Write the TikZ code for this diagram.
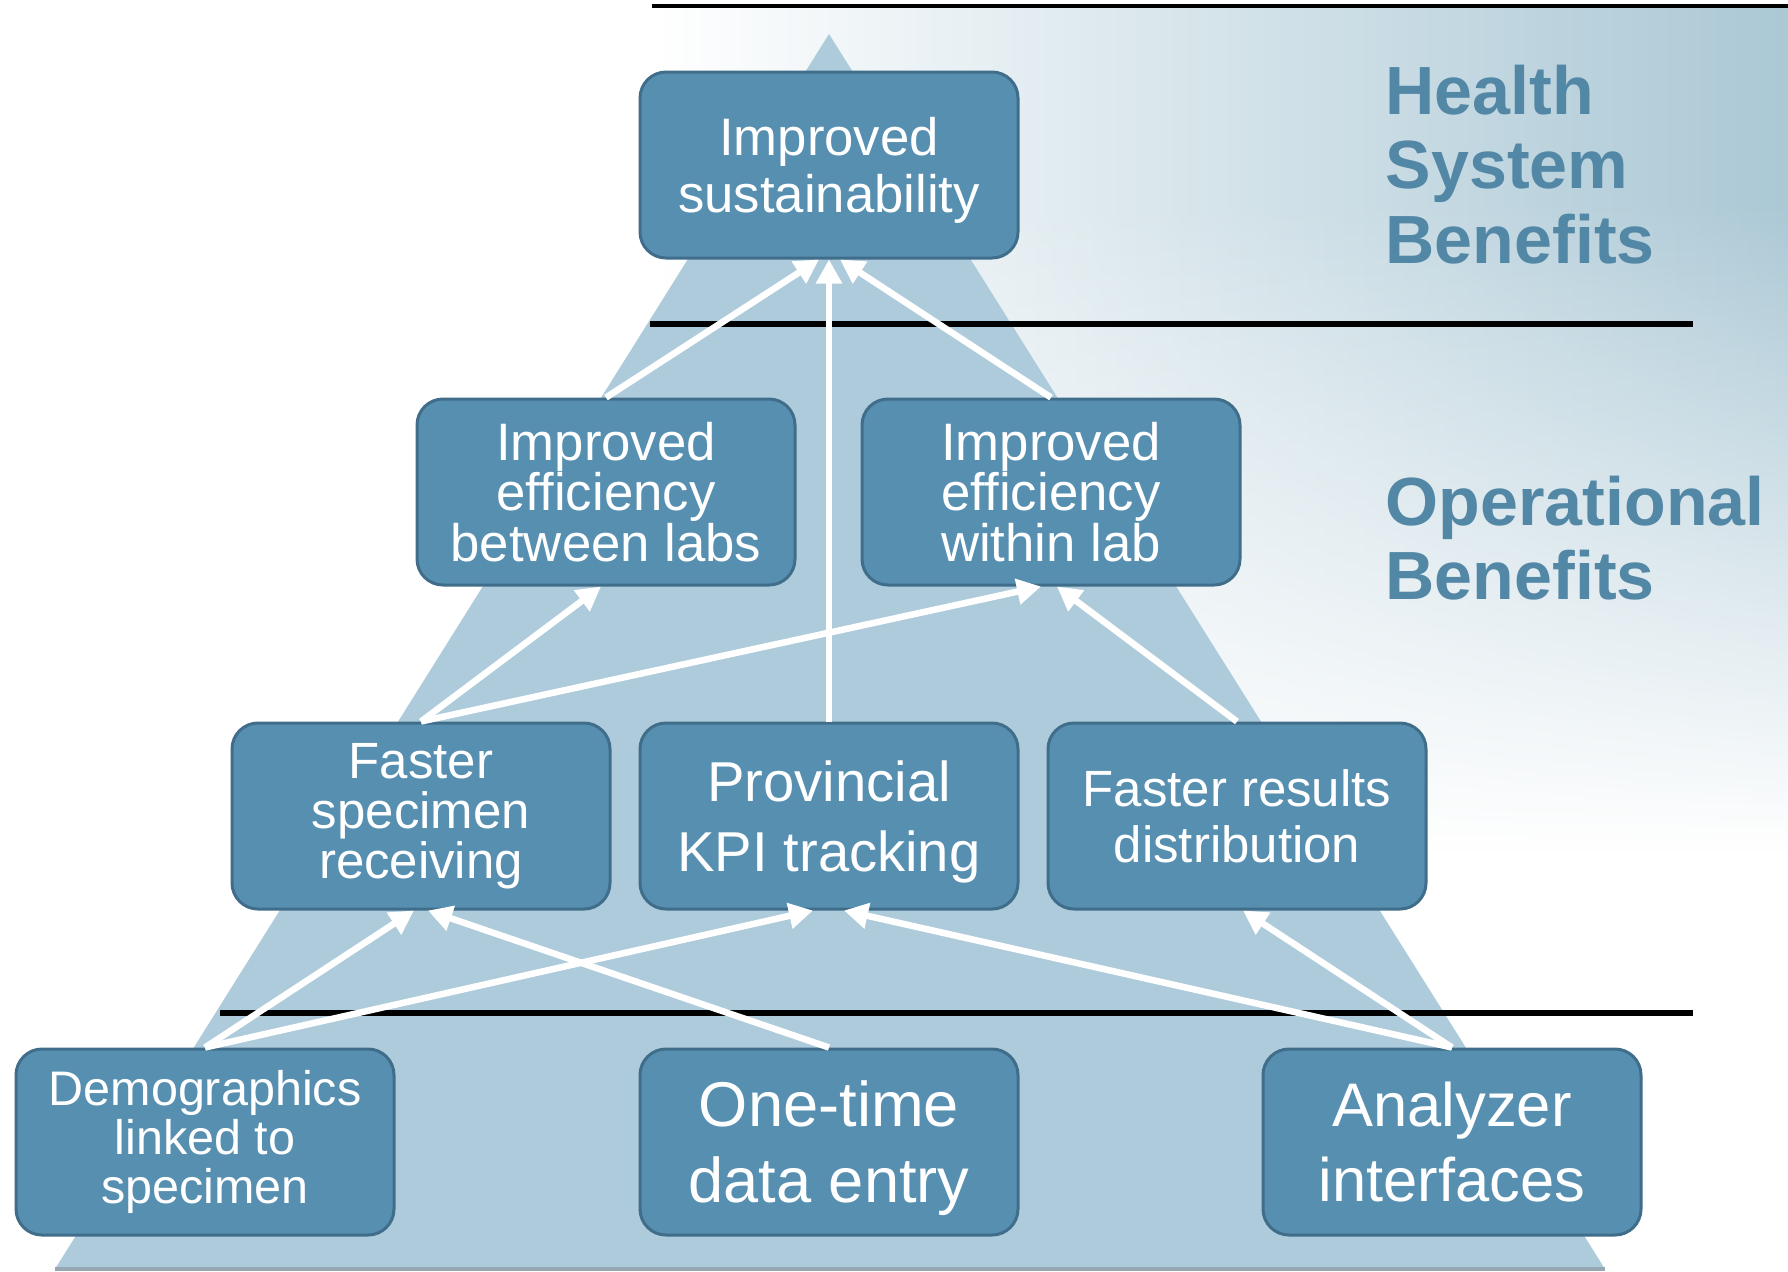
\documentclass[tikz,border=0pt]{standalone}
\usepackage{fontspec}
\setmainfont{Liberation Sans}
\usetikzlibrary{arrows.meta,fadings}

\definecolor{boxblue}{RGB}{87,143,177}
\definecolor{boxedge}{RGB}{64,110,138}
\definecolor{triblue}{RGB}{174,203,220}
\definecolor{tribase}{RGB}{150,168,180}
\definecolor{bgblue}{RGB}{171,200,213}
\definecolor{labelblue}{RGB}{82,135,166}

\begin{document}
\begin{tikzpicture}[x=0.1mm,y=-0.1mm,
    benefit/.style={draw=boxedge,fill=boxblue,line width=0.3mm,rounded corners=2.6mm,
      minimum width=37.8mm,minimum height=18.6mm,inner sep=0pt,align=center,text=white},
    link/.style={draw=white,line width=0.65mm,-{Triangle[length=2.4mm,width=2.5mm]}},
    tier/.style={line width=0.6mm},
    side/.style={anchor=north west,inner sep=0pt,align=left,text=labelblue,
      font=\fontsize{19.4}{21.3}\selectfont\bfseries}]
  \useasboundingbox (0,0) rectangle (1788,1271);
  \fill[white] (0,0) rectangle (1788,1271);
  % background band on the right
  \shade[left color=white,right color=bgblue] (652,6) rectangle (1788,850);
  \fill[white,path fading=north] (652,200) rectangle (1788,851);
  % pyramid
  \fill[triblue] (829,34) -- (1605,1269) -- (55,1269) -- cycle;
  \draw[tribase,line width=0.4mm] (55,1269) -- (1605,1269);
  % tier separators
  \draw[line width=0.4mm] (652,6) -- (1788,6);
  \draw[tier] (650,324) -- (1693,324);
  \draw[tier] (220,1013) -- (1693,1013);

  \node[benefit,text depth=0pt,font=\fontsize{15}{16.2}\selectfont] (sustainability) at (829,165) {Improved\\sustainability};
  \node[benefit,font=\fontsize{15}{14.3}\selectfont] (betweenlabs) at (606,492) {Improved\\efficiency\\between labs};
  \node[benefit,font=\fontsize{15}{14.3}\selectfont] (withinlab) at (1051,492) {Improved\\efficiency\\within lab};
  \node[benefit,font=\fontsize{14.5}{14.2}\selectfont] (specimenreceiving) at (421,816) {Faster\\specimen\\receiving};
  \node[benefit,text depth=0pt,font=\fontsize{16}{19.9}\selectfont] (kpitracking) at (829,816) {Provincial\\KPI tracking};
  \node[benefit,font=\fontsize{14.5}{15.9}\selectfont] (resultsdistribution) at (1237,816) {Faster results\\distribution};
  \node[benefit,font=\fontsize{13.8}{13.9}\selectfont] (demographics) at (205,1142) {Demographics\\linked to\\specimen};
  \node[benefit,text depth=0pt,font=\fontsize{18}{21.6}\selectfont] (onetimeentry) at (829,1142) {One-time\\data entry};
  \node[benefit,font=\fontsize{17.5}{21.6}\selectfont] (analyzerinterfaces) at (1452,1142) {Analyzer\\interfaces};

  \draw[link] (betweenlabs.north) -- ([xshift=-1mm]sustainability.south);
  \draw[link] (kpitracking.north) -- (sustainability.south);
  \draw[link] (withinlab.north) -- ([xshift=1.1mm]sustainability.south);
  \draw[link] (specimenreceiving.north) -- ([xshift=-0.5mm]betweenlabs.south);
  \draw[link] (specimenreceiving.north) -- ([xshift=-1mm]withinlab.south);
  \draw[link] (resultsdistribution.north) -- ([xshift=0.6mm]withinlab.south);
  \draw[link] (demographics.north) -- ([xshift=-0.7mm]specimenreceiving.south);
  \draw[link] (demographics.north) -- ([xshift=-1.6mm]kpitracking.south);
  \draw[link] (onetimeentry.north) -- ([xshift=0.7mm]specimenreceiving.south);
  \draw[link] (analyzerinterfaces.north) -- ([xshift=1.5mm]kpitracking.south);
  \draw[link] (analyzerinterfaces.north) -- ([xshift=0.6mm]resultsdistribution.south);

  \node[side] (healthlabel) at (1385,64) {Health\\System\\Benefits};
  \node[side] (operationallabel) at (1385,475) {Operational\\Benefits};
\end{tikzpicture}
\end{document}
